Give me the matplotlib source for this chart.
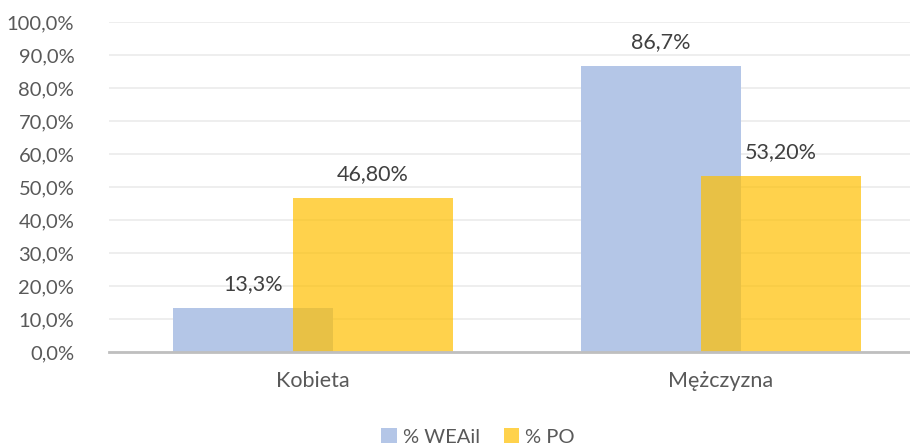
import matplotlib
matplotlib.use('Agg')
import matplotlib.pyplot as plt
from matplotlib.patches import Patch
import numpy as np

# Chart data
categories = ['Kobieta', 'Mężczyzna']
weail = [13.3, 86.7]
po = [46.8, 53.2]
weail_labels = ['13,3%', '86,7%']
po_labels = ['46,80%', '53,20%']
yticks = [0, 10, 20, 30, 40, 50, 60, 70, 80, 90, 100]

plt.rcParams['font.family'] = ['Lato', 'DejaVu Sans']
text_color = '#595959'

fig = plt.figure(figsize=(9.1, 4.48), dpi=100)
# plot area in pixels: left 109, baseline 352, top 22
ax = fig.add_axes([109 / 910, 96 / 448, 801 / 910, 330 / 448])

x = np.arange(len(categories))
width = 0.392
shift = 0.147

ax.bar(x - shift, weail, width, color='#B4C6E7', zorder=2)
ax.bar(x + shift, po, width, color='#FFC000', alpha=0.7, zorder=3)

for i in range(len(categories)):
    ax.text(x[i] - shift, weail[i] + 4.2, weail_labels[i], ha='center', va='bottom',
            fontsize=15.5, color='#404040')
    ax.text(x[i] + shift, po[i] + 4.2, po_labels[i], ha='center', va='bottom',
            fontsize=15.5, color='#404040')

ax.set_xlim(-0.5, -0.5 + 801 / 408)
ax.set_ylim(0, 100)
ax.set_yticks(yticks)
ax.set_yticklabels([f'{t:.1f}%'.replace('.', ',') for t in yticks])
ax.set_xticks(x)
ax.set_xticklabels(categories)
ax.tick_params(axis='both', length=0, colors=text_color)
ax.tick_params(axis='y', pad=25, labelsize=14.5)
ax.tick_params(axis='x', pad=14, labelsize=15.5)

ax.grid(axis='y', color='#EBEBEB', linewidth=1.2, zorder=0)
for side in ['top', 'right', 'left']:
    ax.spines[side].set_visible(False)
ax.spines['bottom'].set_color('#BFBFBF')
ax.spines['bottom'].set_linewidth(2)
ax.spines['bottom'].set_zorder(4)

handles = [Patch(facecolor='#B4C6E7', label='% WEAil'),
           Patch(facecolor='#FFC000', alpha=0.7, label='% PO')]
fig.legend(handles=handles, loc='center', bbox_to_anchor=(478 / 910, 1 - 437 / 448),
           ncol=2, frameon=False, fontsize=14.5, handlelength=0.75, handleheight=0.75,
           handletextpad=0.3, columnspacing=1.2, labelcolor=text_color)

fig.savefig('out.png', dpi=100)
